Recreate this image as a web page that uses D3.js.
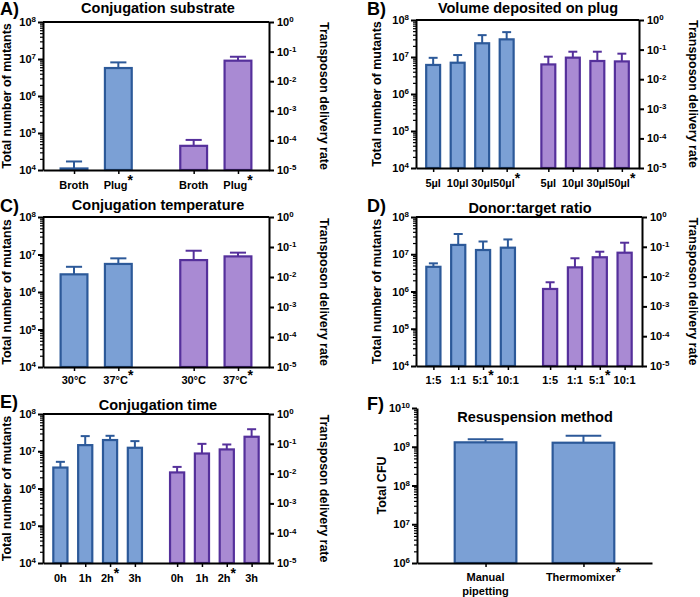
<!DOCTYPE html>
<html><head><meta charset="utf-8">
<script src="https://cdn.jsdelivr.net/npm/d3@7"></script>
<style>
html,body{margin:0;padding:0;background:#fff;}
svg{display:block;font-family:"Liberation Sans",Arial,sans-serif;font-weight:bold;}
</style></head>
<body>
<svg id="chart" width="700" height="597"></svg>
<script>
// ---------- DATA ----------
const catsA = ["Broth", "Plug"];
const blueA = [1.1e4, 5.7e6];
const blueErrA = [1.7e4, 8.1e6];
const purpleA = [4.5e4, 9.0e6];
const purpleErrA = [6.5e4, 1.15e7];
const starA = 1;

const catsB = ["5µl", "10µl", "30µl", "50µl"];
const blueB = [6.1e6, 7.0e6, 2.35e7, 3.0e7];
const blueErrB = [9.5e6, 1.13e7, 3.9e7, 4.7e7];
const purpleB = [6.3e6, 9.6e6, 7.8e6, 7.6e6];
const purpleErrB = [1.02e7, 1.39e7, 1.39e7, 1.23e7];
const starB = 3;

const catsC = ["30°C", "37°C"];
const blueC = [2.96e6, 5.6e6];
const blueErrC = [4.7e6, 7.9e6];
const purpleC = [7.1e6, 8.9e6];
const purpleErrC = [1.26e7, 1.12e7];
const starC = 1;

const catsD = ["1:5", "1:1", "5:1", "10:1"];
const blueD = [4.6e6, 1.78e7, 1.3e7, 1.5e7];
const blueErrD = [5.7e6, 3.5e7, 2.2e7, 2.5e7];
const purpleD = [1.17e6, 4.45e6, 8.3e6, 1.1e7];
const purpleErrD = [1.77e6, 7.8e6, 1.17e7, 2.04e7];
const starD = 2;

const catsE = ["0h", "1h", "2h", "3h"];
const blueE = [3.65e6, 1.46e7, 2.0e7, 1.24e7];
const blueErrE = [5.2e6, 2.55e7, 2.6e7, 1.87e7];
const purpleE = [2.7e6, 8.7e6, 1.12e7, 2.45e7];
const purpleErrE = [3.8e6, 1.58e7, 1.52e7, 3.9e7];
const starE = 2;

const catsF = [["Manual", "pipetting"], ["Thermomixer"]];
const valuesF = [1.3e9, 1.27e9];
const errF = [1.56e9, 1.93e9];
const starF = 1;

const mutantTicks = [1e4, 1e5, 1e6, 1e7, 1e8];
const rateTicks = [1e-5, 1e-4, 1e-3, 1e-2, 1e-1, 1e0];
const cfuTicks = [1e6, 1e7, 1e8, 1e9, 1e10];

const titles = ["Conjugation substrate", "Volume deposited on plug", "Conjugation temperature",
  "Donor:target ratio", "Conjugation time", "Resuspension method"];
const panelLabels = ["A)", "B)", "C)", "D)", "E)", "F)"];

// ---------- STYLE ----------
const BLUE_FILL = "#7ba0d5", BLUE_STROKE = "#2c5999";
const PURPLE_FILL = "#a98ad3", PURPLE_STROKE = "#55309b";
const GAP = 0.7, PAD = 0.7, BARW = 0.65;
const TICK_FS = 11, XLAB_FS = 11, AXT_FS = 12.5, TITLE_FS = 14.5, PL_FS = 18;

const svg = d3.select("#chart");

function sup(sel, base, exp) {
  sel.text(null);
  sel.append("tspan").text(base);
  sel.append("tspan").attr("dy", "-0.45em").attr("font-size", "0.72em").text(exp);
}

function minorTicks(lo, hi) {
  const out = [];
  for (let d = Math.log10(lo); d < Math.log10(hi); d++)
    for (let m = 2; m <= 9; m++) out.push(m * Math.pow(10, d));
  return out;
}

function panel(cfg) {
  const g = svg.append("g");
  const nCat = cfg.cats.length;
  const nGroups = cfg.groups.length;
  const lastIdx = (nGroups - 1) * (nCat + GAP) + nCat - 1;
  const x = d3.scaleLinear().domain([-PAD, lastIdx + PAD]).range([cfg.left, cfg.right]);
  const y = d3.scaleLog().domain(cfg.yDomain).range([cfg.bottom, cfg.top]);
  const step = x(1) - x(0);
  const bw = step * BARW;
  const pos = (gi, ci) => gi * (nCat + GAP) + ci;

  // bars
  cfg.groups.forEach((grp, gi) => {
    const data = grp.values.map((v, ci) => ({v, e: grp.errs[ci], ci}));
    const gg = g.append("g");
    gg.selectAll("line.ev").data(data).join("line")
      .attr("x1", d => x(pos(gi, d.ci))).attr("x2", d => x(pos(gi, d.ci)))
      .attr("y1", d => y(d.v)).attr("y2", d => y(d.e))
      .attr("stroke", grp.stroke).attr("stroke-width", 2);
    gg.selectAll("line.ec").data(data).join("line")
      .attr("x1", d => x(pos(gi, d.ci)) - bw * 0.28).attr("x2", d => x(pos(gi, d.ci)) + bw * 0.28)
      .attr("y1", d => y(d.e)).attr("y2", d => y(d.e))
      .attr("stroke", grp.stroke).attr("stroke-width", 2);
    gg.selectAll("rect").data(data).join("rect")
      .attr("x", d => x(pos(gi, d.ci)) - bw / 2 + 1)
      .attr("width", bw - 2)
      .attr("y", d => y(d.v))
      .attr("height", d => Math.max(0, cfg.bottom - y(d.v)))
      .attr("fill", grp.fill).attr("stroke", grp.stroke).attr("stroke-width", 2.2);
  });

  // left axis: minor + major
  g.append("g").attr("transform", `translate(${cfg.left},0)`)
    .call(d3.axisLeft(y).tickValues(minorTicks(cfg.yDomain[0], cfg.yDomain[1])).tickSize(3).tickSizeOuter(0).tickFormat(""))
    .call(a => a.select(".domain").remove())
    .call(a => a.selectAll("line").attr("stroke-width", 1.2));
  const la = g.append("g").attr("transform", `translate(${cfg.left},0)`)
    .call(d3.axisLeft(y).tickValues(cfg.yTicks).tickSize(5).tickSizeOuter(0).tickPadding(2));
  la.select(".domain").attr("stroke-width", 2);
  la.selectAll("line").attr("stroke-width", 2);
  la.selectAll("text").attr("font-size", TICK_FS).attr("font-weight", "bold").attr("fill", "#000")
    .attr("font-family", "Liberation Sans, Arial, sans-serif")
    .each(function(d) { sup(d3.select(this), "10", Math.round(Math.log10(d))); });

  // right axis
  if (cfg.rightAxis) {
    const y2 = d3.scaleLog().domain([1e-5, 1e0]).range([cfg.bottom, cfg.top]);
    const ra = g.append("g").attr("transform", `translate(${cfg.right},0)`)
      .call(d3.axisRight(y2).tickValues(rateTicks).tickSize(5).tickSizeOuter(0).tickPadding(3));
    ra.select(".domain").attr("stroke-width", 2);
    ra.selectAll("line").attr("stroke-width", 2);
    ra.selectAll("text").attr("font-size", TICK_FS).attr("font-weight", "bold").attr("fill", "#000")
      .attr("font-family", "Liberation Sans, Arial, sans-serif")
      .each(function(d) { sup(d3.select(this), "10", String(Math.round(Math.log10(d)))); });
    g.append("line").attr("x1", cfg.left).attr("x2", cfg.right)
      .attr("y1", cfg.top).attr("y2", cfg.top).attr("stroke", "#000").attr("stroke-width", 2);
    g.append("text")
      .attr("transform", `translate(${cfg.rightTitleX},${(cfg.top + cfg.bottom) / 2}) rotate(90)`)
      .attr("text-anchor", "middle").attr("dominant-baseline", "middle")
      .attr("font-size", AXT_FS).text("Transposon delivery rate");
  }

  // bottom axis
  const allPos = [];
  cfg.groups.forEach((grp, gi) => cfg.cats.forEach((c, ci) => allPos.push({p: pos(gi, ci), c, ci})));
  const ba = g.append("g").attr("transform", `translate(0,${cfg.bottom})`)
    .call(d3.axisBottom(x).tickValues(allPos.map(d => d.p)).tickSize(4).tickSizeOuter(0).tickFormat(""));
  ba.select(".domain").attr("stroke-width", 2);
  ba.selectAll("line").attr("stroke-width", 1.5);

  // x labels
  allPos.forEach(d => {
    const lines = Array.isArray(d.c) ? d.c : [d.c];
    const t = g.append("text").attr("x", x(d.p)).attr("y", cfg.bottom + cfg.labelDy)
      .attr("text-anchor", "middle").attr("font-size", XLAB_FS);
    lines.forEach((ln, li) => {
      t.append("tspan").attr("x", x(d.p)).attr("dy", li === 0 ? 0 : 13.5).text(ln);
      if (li === lines.length - 1 && d.ci === cfg.star) {
        t.append("tspan").attr("dy", "-0.3em").attr("font-size", 14).text("*");
      }
    });
  });

  // titles
  g.append("text").attr("x", cfg.titleX).attr("y", cfg.titleY).attr("text-anchor", "middle")
    .attr("font-size", TITLE_FS).text(cfg.title);
  g.append("text").attr("x", cfg.labelX).attr("y", cfg.labelY).attr("font-size", PL_FS).text(cfg.panelLabel);
  g.append("text")
    .attr("transform", `translate(${cfg.leftTitleX},${(cfg.top + cfg.bottom) / 2}) rotate(-90)`)
    .attr("text-anchor", "middle").attr("dominant-baseline", "middle")
    .attr("font-size", AXT_FS).text(cfg.leftTitle);
}

const blueGrp = (v, e) => ({values: v, errs: e, fill: BLUE_FILL, stroke: BLUE_STROKE});
const purpleGrp = (v, e) => ({values: v, errs: e, fill: PURPLE_FILL, stroke: PURPLE_STROKE});

panel({cats: catsA, groups: [blueGrp(blueA, blueErrA), purpleGrp(purpleA, purpleErrA)], star: starA,
  left: 43, right: 269, top: 22, bottom: 170, yDomain: [1e4, 1e8], yTicks: mutantTicks, rightAxis: true,
  rightTitleX: 323, leftTitleX: 8, leftTitle: "Total number of mutants", labelDy: 19,
  title: titles[0], titleX: 158, titleY: 13, panelLabel: panelLabels[0], labelX: 0, labelY: 15});
panel({cats: catsB, groups: [blueGrp(blueB, blueErrB), purpleGrp(purpleB, purpleErrB)], star: starB,
  left: 416, right: 639, top: 20, bottom: 168, yDomain: [1e4, 1e8], yTicks: mutantTicks, rightAxis: true,
  rightTitleX: 692, leftTitleX: 378, leftTitle: "Total number of mutants", labelDy: 19,
  title: titles[1], titleX: 528, titleY: 13, panelLabel: panelLabels[1], labelX: 367, labelY: 15});
panel({cats: catsC, groups: [blueGrp(blueC, blueErrC), purpleGrp(purpleC, purpleErrC)], star: starC,
  left: 43, right: 269, top: 217, bottom: 367, yDomain: [1e4, 1e8], yTicks: mutantTicks, rightAxis: true,
  rightTitleX: 323, leftTitleX: 8, leftTitle: "Total number of mutants", labelDy: 17,
  title: titles[2], titleX: 158, titleY: 210, panelLabel: panelLabels[2], labelX: 0, labelY: 212});
panel({cats: catsD, groups: [blueGrp(blueD, blueErrD), purpleGrp(purpleD, purpleErrD)], star: starD,
  left: 416, right: 642, top: 217, bottom: 366, yDomain: [1e4, 1e8], yTicks: mutantTicks, rightAxis: true,
  rightTitleX: 692, leftTitleX: 378, leftTitle: "Total number of mutants", labelDy: 18,
  title: titles[3], titleX: 530, titleY: 213, panelLabel: panelLabels[3], labelX: 367, labelY: 212});
panel({cats: catsE, groups: [blueGrp(blueE, blueErrE), purpleGrp(purpleE, purpleErrE)], star: starE,
  left: 43, right: 269, top: 414, bottom: 563, yDomain: [1e4, 1e8], yTicks: mutantTicks, rightAxis: true,
  rightTitleX: 323, leftTitleX: 8, leftTitle: "Total number of mutants", labelDy: 19,
  title: titles[4], titleX: 158, titleY: 410, panelLabel: panelLabels[4], labelX: 0, labelY: 408});
panel({cats: catsF, groups: [blueGrp(valuesF, errF)], star: starF,
  left: 417, right: 652, top: 408, bottom: 563, yDomain: [1e6, 1e10], yTicks: cfuTicks, rightAxis: false,
  leftTitleX: 383, leftTitle: "Total CFU", labelDy: 18,
  title: titles[5], titleX: 535, titleY: 422, panelLabel: panelLabels[5], labelX: 367, labelY: 410});
</script>
</body></html>
